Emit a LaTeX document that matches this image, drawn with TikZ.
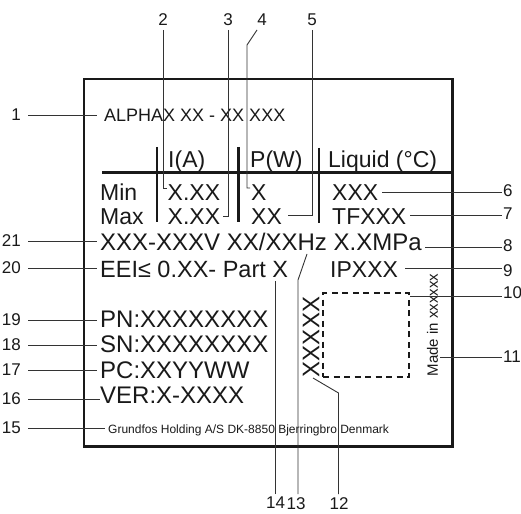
\documentclass[tikz,border=0pt]{standalone}
\usepackage{fontspec}
\setmainfont{Liberation Sans}
\begin{document}
\begin{tikzpicture}[x=1pt,y=-1pt,
  num/.style={font=\fontsize{17}{17}\selectfont, inner sep=0pt, text=black!90},
  numL/.style={num, anchor=east, inner xsep=7pt},
  numR/.style={num, anchor=west, inner xsep=1pt},
  numT/.style={num, anchor=south, inner ysep=4pt},
  numB/.style={num, anchor=north, inner ysep=3pt},
  tab/.style={font=\fontsize{23}{23}\selectfont, inner sep=0pt, anchor=base west, text=black!90},
  row/.style={font=\fontsize{24}{24}\selectfont, inner sep=0pt, anchor=base west, text=black!90},
  lead/.style={line width=0.9pt, draw=black!80},
  bar/.style={line width=2.8pt, draw=black!90}]
\useasboundingbox (0,0) rectangle (521,513);

% label frame
\draw[line width=2.5pt, draw=black!90] (84,79) rectangle (452.5,446.5);

% texts
\node[font=\fontsize{18}{18}\selectfont, inner sep=0pt, anchor=base west, text=black!90] (t1) at (104,121.5) {ALPHAX XX - XX XXX};
\node[tab] (hI) at (168,167) {I(A)};
\node[tab] (hP) at (250,167) {P(W)};
\node[tab] (hL) at (328,167) {Liquid (°C)};
\node[tab] (min) at (100,200) {Min};
\node[tab] (max) at (100,224) {Max};
\node[tab] (iMin) at (167.5,200) {X.XX};
\node[tab] (iMax) at (167.5,224) {X.XX};
\node[tab] (pMin) at (251,200) {X};
\node[tab] (pMax) at (251,224) {XX};
\node[tab] (lMin) at (332,200) {XXX};
\node[tab] (lMax) at (332,224) {TFXXX};
\node[row] (r21) at (100,250) {XXX-XXXV XX/XXHz X.XMPa};
\node[row, font=\fontsize{23.5}{23.5}\selectfont] (r20) at (100,277) {EEI≤ 0.XX- Part X};
\node[tab] (ip) at (330,277) {IPXXX};
\node[row] (pn) at (100,327) {PN:XXXXXXXX};
\node[row] (sn) at (100,352) {SN:XXXXXXXX};
\node[row] (pc) at (100,378) {PC:XXYYWW};
\node[row] (ver) at (100,403) {VER:X-XXXX};
\node[font=\fontsize{12}{12}\selectfont, inner sep=0pt, anchor=base west, text=black!90] (gr) at (108,433) {Grundfos Holding A/S DK-8850 Bjerringbro Denmark};
\node[font=\fontsize{24}{24}\selectfont, rotate=90, inner sep=0pt, text=black!90] (xx) at (311,337) {XXXXX};
\node[font=\fontsize{15}{15}\selectfont, rotate=90, inner sep=0pt, text=black!90] (mi) at (432.5,325) {Made in xxxxxx};
\node[draw=black!90, line width=1.8pt, dash pattern=on 6pt off 4.5pt, minimum width=86pt, minimum height=84pt, inner sep=0pt] (db) at (366,335) {};

% table rules
\draw[line width=3pt, draw=black!90] (102,172) -- (452.5,172);
\draw[bar] (157,147) -- (157,222);
\draw[bar] (238.5,147) -- (238.5,222);
\draw[bar] (319,148) -- (319,223);

% callout numbers
\node[numL] (n1) at (28,115) {1};
\node[numL] (n21) at (28,241) {21};
\node[numL] (n20) at (28,268) {20};
\node[numL] (n19) at (28,320) {19};
\node[numL] (n18) at (28,345) {18};
\node[numL] (n17) at (28,370) {17};
\node[numL] (n16) at (28,399) {16};
\node[numL] (n15) at (28,428) {15};
\node[numT] (n2) at (163,30) {2};
\node[numT] (n3) at (228,30) {3};
\node[numT] (n4) at (262,30) {4};
\node[numT] (n5) at (312,30) {5};
\node[numR] (n6) at (502,191) {6};
\node[numR] (n7) at (502,214) {7};
\node[numR] (n8) at (502,246) {8};
\node[numR] (n9) at (502,271) {9};
\node[numR] (n10) at (502,293) {10};
\node[numR] (n11) at (502,357) {11};
\node[numB] (n14) at (275.5,494) {14};
\node[numB] (n13) at (296,494) {13};
\node[numB] (n12) at (339,494) {12};

% left leaders
\coordinate (lx) at (97,0);
\coordinate (lx16) at (100,0);
\coordinate (lx15) at (105,0);
\foreach \n in {1,21,20,19,18,17}{\draw[lead] (n\n.east) -- (n\n.east -| lx);}
\draw[lead] (n16.east) -- (n16.east -| lx16);
\draw[lead] (n15.east) -- (n15.east -| lx15);

% top leaders
\coordinate (e2) at (167,188);
\coordinate (e3) at (223,216);
\coordinate (k4) at (247,45);
\coordinate (e4) at (250,188);
\coordinate (e5) at (288,215);
\draw[lead] (n2.south) |- (e2);
\draw[lead] (n3.south) |- (e3);
\draw[lead] ([xshift=-5pt]n4.south) -- (k4) |- (e4);
\draw[lead] (n5.south) |- (e5);

% right leaders
\coordinate (s6) at (382,192);
\coordinate (s7) at (410,215);
\coordinate (s8) at (425,247);
\coordinate (s9) at (405,268);
\coordinate (s10) at (410,296);
\coordinate (s11) at (440,357);
\foreach \n in {6,7,8,9,10,11}{\draw[lead] (s\n) -- (s\n -| n\n.west);}

% bottom leaders
\coordinate (e14) at (275,281);
\coordinate (k13) at (298,280);
\coordinate (e13) at (307,254);
\coordinate (k12) at (338.5,393);
\coordinate (e12) at (313,378);
\draw[lead] (n14.north) -- (n14.north |- e14);
\draw[lead] (n13.north -| k13) -- (k13) -- (e13);
\draw[lead] (n12.north -| k12) -- (k12) -- (e12);
\end{tikzpicture}
\end{document}
